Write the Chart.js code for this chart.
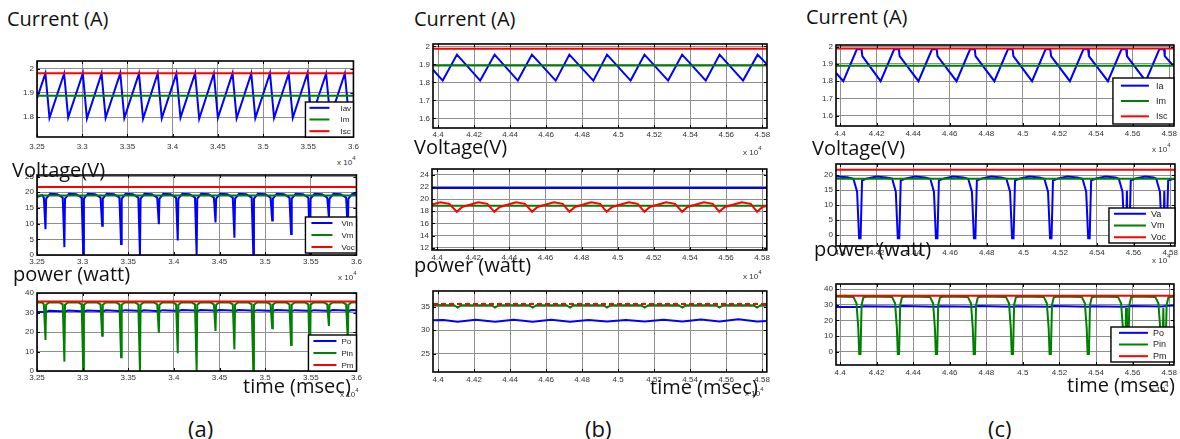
<!DOCTYPE html>
<html>
<head>
<meta charset="utf-8">
<script src="https://cdn.jsdelivr.net/npm/chart.js@4.4.1/dist/chart.umd.min.js"></script>
<style>
body{margin:0;background:#fff;width:1180px;height:439px;position:relative;overflow:hidden}
canvas{position:absolute}
.t{position:absolute;font-family:"Open Sans",sans-serif;font-size:20px;line-height:20px;color:#111;white-space:nowrap;z-index:2}
.e{position:absolute;font-family:"Liberation Sans",Arial,sans-serif;font-size:8px;line-height:8px;color:#333;white-space:nowrap;z-index:1}
.e sup{font-size:6px;line-height:0;vertical-align:5px}
</style>
</head>
<body>
<div class="t" style="left:7px;top:9px">Current (A)</div>
<div class="t" style="left:414px;top:9px">Current (A)</div>
<div class="t" style="left:806px;top:7px">Current (A)</div>
<div class="t" style="left:12px;top:160px">Voltage(V)</div>
<div class="t" style="left:414px;top:137px">Voltage(V)</div>
<div class="t" style="left:812px;top:138px">Voltage(V)</div>
<div class="t" style="left:13px;top:264px">power (watt)</div>
<div class="t" style="left:414px;top:255px">power (watt)</div>
<div class="t" style="left:814px;top:239px">power (watt)</div>
<div class="t" style="left:243px;top:376px">time (msec)</div>
<div class="t" style="left:650px;top:377px">time (msec)</div>
<div class="t" style="left:1067px;top:375px">time (msec)</div>
<div class="t" style="left:188px;top:418px;font-size:22px">(a)</div>
<div class="t" style="left:585px;top:418px;font-size:22px">(b)</div>
<div class="t" style="left:988px;top:418px;font-size:22px">(c)</div>

<div class="e" style="left:337px;top:158px">x 10<sup>4</sup></div>
<div class="e" style="left:338px;top:273px">x 10<sup>4</sup></div>
<div class="e" style="left:340px;top:390px">x 10<sup>4</sup></div>
<div class="e" style="left:743px;top:148px">x 10<sup>4</sup></div>
<div class="e" style="left:743px;top:272px">x 10<sup>4</sup></div>
<div class="e" style="left:745px;top:389px">x 10<sup>4</sup></div>
<div class="e" style="left:1152px;top:145px">x 10<sup>4</sup></div>
<div class="e" style="left:1152px;top:256px">x 10<sup>4</sup></div>
<div class="e" style="left:1150px;top:385px">x 10<sup>4</sup></div>

<script>
// tick values
const aXTicks = [3.25, 3.3, 3.35, 3.4, 3.45, 3.5, 3.55, 3.6];
const bcXTicks = [4.4, 4.42, 4.44, 4.46, 4.48, 4.5, 4.52, 4.54, 4.56, 4.58];
const aCurTicks = [1.8, 1.9, 2];
const aVoltTicks = [0, 5, 10, 15, 20, 25];
const aPowTicks = [0, 10, 20, 30, 40];
const bCurTicks = [1.6, 1.7, 1.8, 1.9, 2];
const bVoltTicks = [12, 14, 16, 18, 20, 22, 24];
const bPowTicks = [25, 30, 35];
const cCurTicks = [1.6, 1.7, 1.8, 1.9, 2];
const cVoltTicks = [0, 5, 10, 15, 20];
const cPowTicks = [0, 10, 20, 30, 40];

// (a) series, x in units of 1e4 msec
const aIav = [[3.2500,1.877],[3.2593,1.982],[3.2638,1.797],[3.2800,1.981],[3.2845,1.798],
  [3.3007,1.982],[3.3052,1.794],[3.3214,1.981],[3.3259,1.797],[3.3421,1.982],[3.3466,1.796],
  [3.3628,1.981],[3.3673,1.793],[3.3835,1.982],[3.3880,1.795],[3.4042,1.981],[3.4087,1.798],
  [3.4249,1.982],[3.4294,1.793],[3.4456,1.981],[3.4501,1.797],[3.4663,1.982],[3.4708,1.795],
  [3.4870,1.981],[3.4915,1.796],[3.5077,1.982],[3.5122,1.797],[3.5284,1.981],[3.5329,1.797],
  [3.5491,1.982],[3.5536,1.798],[3.5698,1.981],[3.5743,1.797],[3.5905,1.982],[3.5950,1.798],
  [3.6000,1.855]];
const aIm = [[3.25,1.889],[3.6,1.889]];
const aIsc = [[3.25,1.982],[3.6,1.982]];

const aVin = [[3.2500,18.5],[3.2555,19.1],
  [3.2575,18.3],[3.2593,8.2],[3.2600,18.0],[3.2643,19.5],[3.2723,19.4],
  [3.2782,18.3],[3.2800,2.5],[3.2807,18.0],[3.2850,19.5],[3.2930,19.4],
  [3.2989,18.3],[3.3007,0],[3.3014,18.0],[3.3057,19.5],[3.3137,19.4],
  [3.3196,18.3],[3.3214,9.3],[3.3221,18.0],[3.3264,19.5],[3.3344,19.4],
  [3.3403,18.3],[3.3421,3.5],[3.3428,18.0],[3.3471,19.5],[3.3551,19.4],
  [3.3610,18.3],[3.3628,0],[3.3635,18.0],[3.3678,19.5],[3.3758,19.4],
  [3.3817,18.3],[3.3835,9.8],[3.3842,18.0],[3.3885,19.5],[3.3965,19.4],
  [3.4024,18.3],[3.4042,4.6],[3.4049,18.0],[3.4092,19.5],[3.4172,19.4],
  [3.4231,18.3],[3.4249,0],[3.4256,18.0],[3.4299,19.5],[3.4379,19.4],
  [3.4438,18.3],[3.4456,10.4],[3.4463,18.0],[3.4506,19.5],[3.4586,19.4],
  [3.4645,18.3],[3.4663,5.5],[3.4670,18.0],[3.4713,19.5],[3.4793,19.4],
  [3.4852,18.3],[3.4870,0],[3.4877,18.0],[3.4920,19.5],[3.5000,19.4],
  [3.5059,18.3],[3.5077,11.0],[3.5084,18.0],[3.5127,19.5],[3.5207,19.4],
  [3.5266,18.3],[3.5284,6.7],[3.5291,18.0],[3.5334,19.5],[3.5414,19.4],
  [3.5473,18.3],[3.5491,0],[3.5498,18.0],[3.5541,19.5],[3.5621,19.4],
  [3.5680,18.3],[3.5698,12.0],[3.5705,18.0],[3.5748,19.5],[3.5828,19.4],
  [3.5887,18.3],[3.5905,8.0],[3.5912,18.0],[3.5955,19.5],[3.6000,19.4]];
const aVm = [[3.25,19.0],[3.6,19.0]];
const aVoc = [[3.25,21.7],[3.6,21.7]];

const aPo = [[3.2500,30.3],[3.2593,30.2],[3.2633,30.9],[3.2770,30.7],
  [3.2800,30.3],[3.2840,31.0],[3.2977,30.7],[3.3007,30.3],[3.3047,31.0],[3.3184,30.8],
  [3.3214,30.4],[3.3254,31.1],[3.3391,30.8],[3.3421,30.5],[3.3461,31.2],[3.3598,30.9],
  [3.3628,30.4],[3.3668,31.1],[3.3805,30.8],[3.3835,30.5],[3.3875,31.2],[3.4012,30.9],
  [3.4042,30.6],[3.4082,31.3],[3.4219,31.0],[3.4249,30.6],[3.4289,31.3],[3.4426,31.0],
  [3.4456,30.7],[3.4496,31.3],[3.4633,31.0],[3.4663,30.6],[3.4703,31.3],[3.4840,31.0],
  [3.4870,30.6],[3.4910,31.2],[3.5047,30.9],[3.5077,30.7],[3.5117,31.3],[3.5254,31.0],
  [3.5284,30.6],[3.5324,31.2],[3.5461,30.9],[3.5491,30.5],[3.5531,31.2],[3.5668,30.9],
  [3.5698,30.6],[3.5738,31.3],[3.5875,31.0],[3.5905,30.6],[3.5945,31.3],[3.6000,31.1]];
const aPin = [[3.2500,35.1],[3.2555,35.2],
  [3.2575,34.2],[3.2593,15.9],[3.2600,34.0],[3.2633,35.1],[3.2743,35.2],
  [3.2782,34.2],[3.2800,4.8],[3.2807,34.0],[3.2840,35.1],[3.2950,35.2],
  [3.2989,34.2],[3.3007,0],[3.3014,34.0],[3.3047,35.1],[3.3157,35.2],
  [3.3196,34.2],[3.3214,18.1],[3.3221,34.0],[3.3254,35.1],[3.3364,35.2],
  [3.3403,34.2],[3.3421,7.0],[3.3428,34.0],[3.3461,35.1],[3.3571,35.2],
  [3.3610,34.2],[3.3628,0],[3.3635,34.0],[3.3668,35.1],[3.3778,35.2],
  [3.3817,34.2],[3.3835,19.6],[3.3842,34.0],[3.3875,35.1],[3.3985,35.2],
  [3.4024,34.2],[3.4042,9.1],[3.4049,34.0],[3.4082,35.1],[3.4192,35.2],
  [3.4231,34.2],[3.4249,0],[3.4256,34.0],[3.4289,35.1],[3.4399,35.2],
  [3.4438,34.2],[3.4456,20.5],[3.4463,34.0],[3.4496,35.1],[3.4606,35.2],
  [3.4645,34.2],[3.4663,11.1],[3.4670,34.0],[3.4703,35.1],[3.4813,35.2],
  [3.4852,34.2],[3.4870,0],[3.4877,34.0],[3.4910,35.1],[3.5020,35.2],
  [3.5059,34.2],[3.5077,21.9],[3.5084,34.0],[3.5117,35.1],[3.5227,35.2],
  [3.5266,34.2],[3.5284,13.3],[3.5291,34.0],[3.5324,35.1],[3.5434,35.2],
  [3.5473,34.2],[3.5491,0],[3.5498,34.0],[3.5531,35.1],[3.5641,35.2],
  [3.5680,34.2],[3.5698,23.1],[3.5705,34.0],[3.5738,35.1],[3.5848,35.2],
  [3.5887,34.2],[3.5905,15.5],[3.5912,34.0],[3.5945,35.1],[3.6000,35.2]];
const aPm = [[3.25,35.6],[3.6,35.6]];

// (b) series
const bIa = [[4.3972,1.870],[4.4026,1.810],[4.4105,1.954],[4.4234,1.810],[4.4314,1.954],
  [4.4443,1.810],[4.4521,1.954],[4.4653,1.810],[4.4729,1.954],[4.4862,1.810],[4.4938,1.954],
  [4.5069,1.810],[4.5146,1.954],[4.5277,1.810],[4.5355,1.954],[4.5486,1.810],[4.5563,1.954],
  [4.5693,1.810],[4.5774,1.954],[4.5826,1.900]];
const bIm = [[4.3972,1.894],[4.5826,1.894]];
const bIsc = [[4.3972,1.986],[4.5826,1.986]];

const bVoc = [[4.3972,21.8],[4.5826,21.8]];
const bVm = [[4.3972,18.9],[4.5826,18.9]];
const bVa = [[4.3972,19.1],[4.4018,19.45],[4.4068,19.2],[4.4109,17.9],[4.4139,18.7],
  [4.4229,19.45],[4.4279,19.2],[4.4317,17.9],[4.4347,18.7],[4.4437,19.45],[4.4487,19.2],
  [4.4526,17.9],[4.4556,18.7],[4.4646,19.45],[4.4696,19.2],[4.4733,17.9],[4.4763,18.7],
  [4.4853,19.45],[4.4903,19.2],[4.4939,17.9],[4.4969,18.7],[4.5061,19.45],[4.5111,19.2],
  [4.5148,17.9],[4.5178,18.7],[4.5268,19.45],[4.5318,19.2],[4.5357,17.9],[4.5387,18.7],
  [4.5477,19.45],[4.5527,19.2],[4.5563,17.9],[4.5593,18.7],[4.5687,19.45],[4.5737,19.2],
  [4.5772,17.9],[4.5802,18.7],[4.5826,18.85]];

const bPo = [[4.3972,32.1],[4.4030,32.15],[4.4109,31.75],[4.4209,32.2],[4.4317,31.75],
  [4.4420,32.2],[4.4526,31.75],[4.4628,32.2],[4.4733,31.75],[4.4835,32.15],[4.4939,31.8],
  [4.5043,32.15],[4.5148,31.8],[4.5252,32.2],[4.5357,31.8],[4.5460,32.25],[4.5563,31.8],
  [4.5668,32.3],[4.5772,31.85],[4.5826,31.95]];
const bPin = [[4.3972,35.35],[4.4089,35.3],[4.4109,34.8],[4.4129,35.3],[4.4297,35.3],
  [4.4317,34.8],[4.4337,35.3],[4.4506,35.3],[4.4526,34.8],[4.4546,35.3],[4.4713,35.3],
  [4.4733,34.8],[4.4753,35.3],[4.4919,35.3],[4.4939,34.8],[4.4959,35.3],[4.5128,35.3],
  [4.5148,34.8],[4.5168,35.3],[4.5337,35.3],[4.5357,34.8],[4.5377,35.3],[4.5543,35.3],
  [4.5563,34.8],[4.5583,35.3],[4.5752,35.3],[4.5772,34.8],[4.5792,35.3],[4.5826,35.35]];
const bPm = [[4.3972,35.55],[4.5826,35.55]];

// (c) series
const cIa = [[4.3978,1.848],
  [4.4018,1.800],[4.4092,1.985],[4.4118,1.985],[4.4122,1.945],
  [4.4222,1.800],[4.4296,1.985],[4.4322,1.985],[4.4326,1.945],
  [4.4429,1.800],[4.4503,1.985],[4.4529,1.985],[4.4533,1.945],
  [4.4637,1.800],[4.4711,1.985],[4.4737,1.985],[4.4741,1.945],
  [4.4844,1.800],[4.4918,1.985],[4.4944,1.985],[4.4948,1.945],
  [4.5050,1.800],[4.5124,1.985],[4.5150,1.985],[4.5154,1.945],
  [4.5257,1.800],[4.5331,1.985],[4.5357,1.985],[4.5361,1.945],
  [4.5465,1.800],[4.5539,1.985],[4.5565,1.985],[4.5569,1.945],
  [4.5672,1.800],[4.5746,1.985],[4.5772,1.985],[4.5776,1.945],[4.5826,1.885]];
const cIm = [[4.3978,1.89],[4.5826,1.89]];
const cIsc = [[4.3978,1.989],[4.5826,1.989]];

const cVa = [[4.3978,19.5],[4.4040,19.3],
  [4.4073,18.8],[4.4093,14.5],[4.4104,-1],[4.4112,-1],[4.4120,18.2],[4.4148,18.9],[4.4198,19.5],[4.4253,19.2],
  [4.4284,18.8],[4.4304,14.5],[4.4315,-1],[4.4323,-1],[4.4331,18.2],[4.4359,18.9],[4.4409,19.5],[4.4464,19.2],
  [4.4492,18.8],[4.4512,14.5],[4.4523,-1],[4.4531,-1],[4.4539,18.2],[4.4567,18.9],[4.4617,19.5],[4.4672,19.2],
  [4.4699,18.8],[4.4719,14.5],[4.4730,-1],[4.4738,-1],[4.4746,18.2],[4.4774,18.9],[4.4824,19.5],[4.4879,19.2],
  [4.4907,18.8],[4.4927,14.5],[4.4938,-1],[4.4946,-1],[4.4954,18.2],[4.4982,18.9],[4.5032,19.5],[4.5087,19.2],
  [4.5114,18.8],[4.5134,14.5],[4.5145,-1],[4.5153,-1],[4.5161,18.2],[4.5189,18.9],[4.5239,19.5],[4.5294,19.2],
  [4.5322,18.8],[4.5342,14.5],[4.5353,-1],[4.5361,-1],[4.5369,18.2],[4.5397,18.9],[4.5447,19.5],[4.5502,19.2],
  [4.5520,18.8],[4.5540,14.5],[4.5551,-1],[4.5559,-1],[4.5564,14.8],[4.5568,-1],[4.5577,-1],[4.5585,18.2],
  [4.5613,18.9],[4.5663,19.5],[4.5710,19.2],
  [4.5724,18.8],[4.5744,14.5],[4.5755,-1],[4.5763,-1],[4.5768,14.8],[4.5772,-1],[4.5781,-1],[4.5789,18.2],
  [4.5810,18.6],[4.5826,18.8]];
const cVm = [[4.3978,18.8],[4.5826,18.8]];
const cVoc = [[4.3978,21.8],[4.5826,21.8]];

const cPo = [[4.3978,28.6],[4.4108,28.6],[4.4130,29.1],[4.4319,28.8],[4.4341,29.2],[4.4527,28.8],
  [4.4549,29.1],[4.4734,28.8],[4.4756,29.2],[4.4942,28.8],[4.4964,29.1],[4.5149,28.8],[4.5171,29.2],
  [4.5357,28.8],[4.5379,29.1],[4.5555,28.8],[4.5590,29.2],[4.5759,28.9],[4.5795,29.3],[4.5826,29.6]];
const cPin = [[4.3978,35.2],
  [4.4073,35.0],[4.4090,31],[4.4100,15],[4.4105,-1.3],[4.4112,-1.3],[4.4118,30],[4.4128,34.8],[4.4153,35.2],
  [4.4284,35.0],[4.4301,31],[4.4311,15],[4.4316,-1.3],[4.4323,-1.3],[4.4329,30],[4.4339,34.8],[4.4364,35.2],
  [4.4492,35.0],[4.4509,31],[4.4519,15],[4.4524,-1.3],[4.4531,-1.3],[4.4537,30],[4.4547,34.8],[4.4572,35.2],
  [4.4699,35.0],[4.4716,31],[4.4726,15],[4.4731,-1.3],[4.4738,-1.3],[4.4744,30],[4.4754,34.8],[4.4779,35.2],
  [4.4907,35.0],[4.4924,31],[4.4934,15],[4.4939,-1.3],[4.4946,-1.3],[4.4952,30],[4.4962,34.8],[4.4987,35.2],
  [4.5114,35.0],[4.5131,31],[4.5141,15],[4.5146,-1.3],[4.5153,-1.3],[4.5159,30],[4.5169,34.8],[4.5194,35.2],
  [4.5322,35.0],[4.5339,31],[4.5349,15],[4.5354,-1.3],[4.5361,-1.3],[4.5367,30],[4.5377,34.8],[4.5402,35.2],
  [4.5520,35.0],[4.5537,31],[4.5547,15],[4.5552,-1.3],[4.5559,-1.3],[4.5564,28],[4.5569,-1.3],[4.5576,-1.3],
  [4.5582,30],[4.5592,34.8],[4.5617,35.2],
  [4.5724,35.0],[4.5741,31],[4.5751,15],[4.5756,-1.3],[4.5763,-1.3],[4.5768,28],[4.5773,-1.3],[4.5780,-1.3],
  [4.5786,30],[4.5796,34.8],[4.5826,35.2]];
const cPm = [[4.3978,35.7],[4.5826,35.7]];

const BLUE = '#0000ff', GREEN = '#008000', RED = '#ff0000';
const YW = 34, PT = 8, XH = 18;

// box = plot area [left, top, right, bottom] in page pixels
const panels = [
  {box:[37,61,358,137], x:[3.25,3.6], y:[1.717,2.033], xt:aXTicks, yt:aCurTicks, xpad:5,
   series:[['Iav',aIav,BLUE],['Im',aIm,GREEN],['Isc',aIsc,RED]],
   legend:{w:48,h:35,ib:0,l0:4,l1:24,tx:35,fs:8}},
  {box:[37,175,358,255], x:[3.25,3.6], y:[0,25.5], xt:aXTicks, yt:aVoltTicks, xpad:2,
   series:[['Vin',aVin,BLUE],['Vm',aVm,GREEN],['Voc',aVoc,RED]],
   legend:{w:51,h:36,ib:2,l0:6,l1:27,tx:36,fs:8}},
  {box:[37,293,358,371], x:[3.25,3.6], y:[0,40], xt:aXTicks, yt:aPowTicks, xpad:2,
   series:[['Po',aPo,BLUE],['Pin',aPin,GREEN],['Pm',aPm,RED]],
   legend:{w:48,h:36,ib:0,l0:5,l1:28,tx:33,fs:8}},
  {box:[433,44,767,128], x:[4.3972,4.5826], y:[1.547,2.013], xt:bcXTicks, yt:bCurTicks, xpad:2,
   series:[['Ia',bIa,BLUE],['Im',bIm,GREEN],['Isc',bIsc,RED]]},
  {box:[432,169,767,250], x:[4.3972,4.5826], y:[11.62,24.93], xt:bcXTicks, yt:bVoltTicks, xpad:3,
   series:[['Voc',bVoc,BLUE],['Vm',bVm,GREEN],['Va',bVa,RED]]},
  {box:[433,291,767,372], x:[4.3972,4.5826], y:[21.1,38.3], xt:bcXTicks, yt:bPowTicks, xpad:3,
   series:[['Po',bPo,BLUE],['Pin',bPin,GREEN],['Pm',bPm,RED,[5,3]]]},
  {box:[836,45,1178,126], x:[4.3978,4.5826], y:[1.54,2.01], xt:bcXTicks, yt:cCurTicks, xpad:3,
   series:[['Ia',cIa,BLUE],['Im',cIm,GREEN],['Isc',cIsc,RED]],
   legend:{w:61,h:46,ib:2,l0:8,l1:36,tx:43,fs:9}},
  {box:[836,164,1178,246], x:[4.3978,4.5826], y:[-3.6,23.7], xt:bcXTicks, yt:cVoltTicks, xpad:2,
   series:[['Va',cVa,BLUE],['Vm',cVm,GREEN],['Voc',cVoc,RED]],
   legend:{w:66,h:35,ib:3,l0:5,l1:37,tx:42,fs:9}},
  {box:[836,284,1178,365], x:[4.3978,4.5826], y:[-8.3,43.2], xt:bcXTicks, yt:cPowTicks, xpad:3,
   series:[['Po',cPo,BLUE],['Pin',cPin,GREEN],['Pm',cPm,RED]],
   legend:{w:63,h:35,ib:3,l0:8,l1:37,tx:42,fs:9}}
];

function framePlugin(p) {
  return {
    id: 'frame',
    afterDatasetsDraw(chart) {
      const ctx = chart.ctx, a = chart.chartArea;
      const sx = chart.scales.x, sy = chart.scales.y;
      ctx.save();
      ctx.strokeStyle = '#000';
      ctx.lineWidth = 1;
      ctx.beginPath();
      p.xt.forEach(v => {
        const px = Math.round(sx.getPixelForValue(v)) + 0.5;
        ctx.moveTo(px, a.bottom); ctx.lineTo(px, a.bottom - 3);
        ctx.moveTo(px, a.top); ctx.lineTo(px, a.top + 3);
      });
      p.yt.forEach(v => {
        const py = Math.round(sy.getPixelForValue(v)) + 0.5;
        ctx.moveTo(a.left, py); ctx.lineTo(a.left + 3, py);
        ctx.moveTo(a.right, py); ctx.lineTo(a.right - 3, py);
      });
      ctx.stroke();
      ctx.lineWidth = 1.6;
      ctx.strokeRect(a.left, a.top, a.right - a.left, a.bottom - a.top);

      const lg = p.legend;
      if (lg) {
        const r = a.right, b = a.bottom - lg.ib;
        const l = r - lg.w, t = b - lg.h;
        ctx.fillStyle = '#fff';
        ctx.fillRect(l, t, lg.w, lg.h);
        ctx.lineWidth = 1.4;
        ctx.strokeRect(l, t, lg.w, lg.h);
        ctx.font = lg.fs + 'px "Liberation Sans", Arial, sans-serif';
        ctx.textBaseline = 'middle';
        p.series.forEach((s, i) => {
          const yy = t + lg.h * (i + 0.5) / 3;
          ctx.strokeStyle = s[2];
          ctx.lineWidth = 2;
          ctx.beginPath();
          ctx.moveTo(l + lg.l0, yy); ctx.lineTo(l + lg.l1, yy);
          ctx.stroke();
          ctx.fillStyle = '#222';
          ctx.fillText(s[0], l + lg.tx, yy + 0.5);
        });
      }
      ctx.restore();
    }
  };
}

function fmt(v) { return String(+v.toFixed(3)); }

panels.forEach(p => {
  const [L, T, R, B] = p.box;
  const padR = Math.max(0, Math.min(6, 1180 - R));
  const cv = document.createElement('canvas');
  cv.width = R - L + YW + padR;
  cv.height = B - T + PT + XH;
  cv.style.left = (L - YW) + 'px';
  cv.style.top = (T - PT) + 'px';
  document.body.appendChild(cv);

  const n = p.series.length;
  const datasets = p.series.map((s, i) => ({
    label: s[0],
    data: s[1].map(q => ({x: q[0], y: q[1]})),
    borderColor: s[2],
    borderWidth: 2,
    borderDash: s[3] || [],
    pointRadius: 0,
    tension: 0,
    fill: false,
    order: n - i
  }));

  new Chart(cv, {
    type: 'line',
    data: {datasets},
    options: {
      responsive: false,
      animation: false,
      devicePixelRatio: 1,
      layout: {padding: {top: PT, right: padR, left: 0, bottom: 0}},
      plugins: {legend: {display: false}, tooltip: {enabled: false}},
      scales: {
        x: {
          type: 'linear', min: p.x[0], max: p.x[1],
          afterBuildTicks: ax => { ax.ticks = p.xt.map(v => ({value: v})); },
          afterFit: ax => { ax.height = XH; },
          grid: {color: '#8f8f8f', lineWidth: 1, drawTicks: false},
          border: {display: false},
          ticks: {padding: p.xpad, autoSkip: false, maxRotation: 0, color: '#333',
                  font: {family: 'Liberation Sans', size: 8}, callback: v => fmt(v)}
        },
        y: {
          min: p.y[0], max: p.y[1],
          afterBuildTicks: ax => { ax.ticks = p.yt.map(v => ({value: v})); },
          afterFit: ax => { ax.width = YW; },
          grid: {color: '#8f8f8f', lineWidth: 1, drawTicks: false},
          border: {display: false},
          ticks: {padding: 3, color: '#333', font: {family: 'Liberation Sans', size: 8},
                  callback: v => fmt(v)}
        }
      }
    },
    plugins: [framePlugin(p)]
  });
});
</script>
</body>
</html>
